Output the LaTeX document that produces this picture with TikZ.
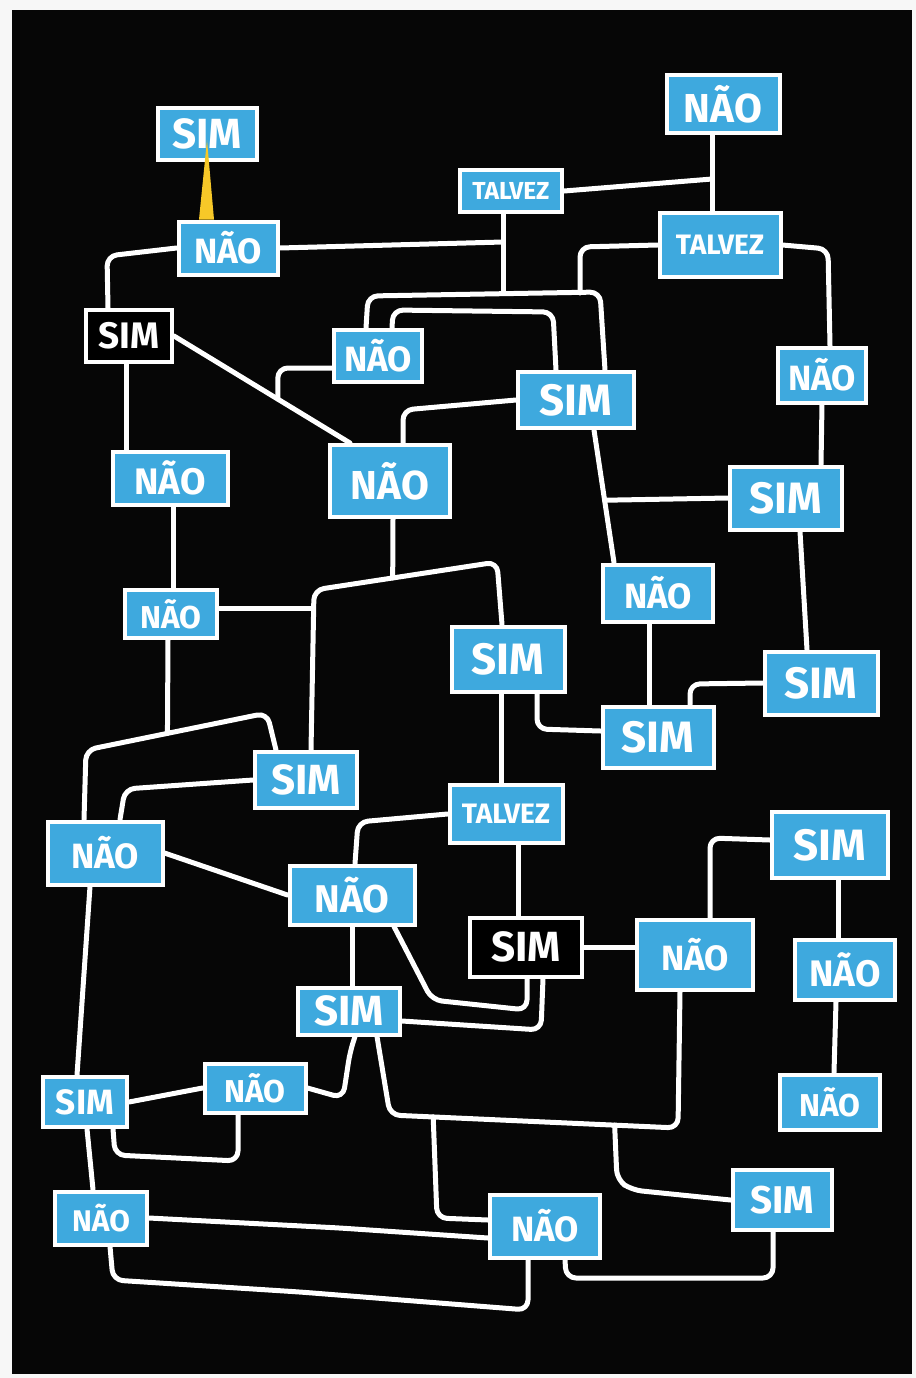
\documentclass[tikz,border=0pt]{standalone}
\usepackage{fontspec}
\setmainfont{Fira Sans}
\usetikzlibrary{calc,backgrounds}

\definecolor{cardblue}{RGB}{62,169,222}
\definecolor{tape}{RGB}{247,200,40}
\definecolor{board}{RGB}{6,6,6}

\begin{document}
\begin{tikzpicture}[x=0.2mm, y=-0.2mm,
    card/.style={draw=white, line width=0.8mm, inner sep=0pt, text=white},
    bluecard/.style={card, fill=cardblue},
    blackcard/.style={card, fill=black},
    sz/.style n args={3}{minimum width=#1*0.2mm, minimum height=#2*0.2mm,
        font=\bfseries\fontsize{#3}{#3}\selectfont},
    wire/.style={draw=white, line width=1mm, rounded corners=2mm, line cap=round, line join=round}
]
\useasboundingbox (0,0) rectangle (916,1378);

% top of the board
\node[bluecard, sz={99}{52}{24}]  (s1) at (207,134) {SIM};
\node[bluecard, sz={99}{53}{20}]  (n2) at (228,248) {NÃO};
\node[bluecard, sz={102}{42}{14}] (t3) at (511,191) {TALVEZ};
\node[bluecard, sz={113}{58}{23}] (n4) at (723,104) {NÃO};
\node[bluecard, sz={121}{64}{16}] (t5) at (720,245) {TALVEZ};

% second band
\node[blackcard, sz={86}{52}{21}] (s6) at (129,336) {SIM};
\node[bluecard, sz={88}{52}{20}]  (n7) at (378,356) {NÃO};
\node[bluecard, sz={116}{56}{25}] (s8) at (576,400) {SIM};
\node[bluecard, sz={88}{55}{20}]  (n9) at (822,375) {NÃO};
\node[bluecard, sz={115}{53}{21}] (n10) at (170,478) {NÃO};
\node[bluecard, sz={120}{72}{23}] (n11) at (390,481) {NÃO};
\node[bluecard, sz={112}{63}{25}] (s12) at (786,498) {SIM};

% middle
\node[bluecard, sz={92}{48}{18}]  (n13) at (171,614) {NÃO};
\node[bluecard, sz={110}{57}{20}] (n14) at (658,593) {NÃO};
\node[bluecard, sz={113}{65}{25}] (s15) at (508,659) {SIM};
\node[bluecard, sz={113}{63}{25}] (s16) at (821,683) {SIM};
\node[bluecard, sz={111}{61}{25}] (s17) at (658,737) {SIM};
\node[bluecard, sz={102}{56}{24}] (s18) at (306,780) {SIM};
\node[bluecard, sz={113}{58}{16}] (t19) at (506,814) {TALVEZ};
\node[bluecard, sz={116}{66}{25}] (s20) at (830,845) {SIM};
\node[bluecard, sz={115}{63}{20}] (n21) at (105,853) {NÃO};
\node[bluecard, sz={125}{59}{22}] (n22) at (352,895) {NÃO};
\node[blackcard, sz={112}{59}{24}] (s23) at (526,947) {SIM};
\node[bluecard, sz={116}{70}{20}] (n24) at (695,955) {NÃO};
\node[bluecard, sz={100}{60}{21}] (n25) at (845,970) {NÃO};

% bottom
\node[bluecard, sz={102}{47}{24}] (s26) at (349,1011) {SIM};
\node[bluecard, sz={84}{50}{20}]  (s27) at (85,1102) {SIM};
\node[bluecard, sz={101}{49}{18}] (n28) at (255,1088) {NÃO};
\node[bluecard, sz={100}{55}{18}] (n29) at (830,1102) {NÃO};
\node[bluecard, sz={99}{60}{22}]  (s30) at (782,1200) {SIM};
\node[bluecard, sz={92}{53}{17}]  (n31) at (101,1218) {NÃO};
\node[bluecard, sz={110}{63}{20}] (n32) at (545,1226) {NÃO};

% junctions
\coordinate (jtop) at (503,242);
\coordinate (jn4) at (712,179);
\coordinate (jdiag) at ($(s6.east)!0.59!(n11.north -| 350,0)$);
\coordinate (jmid) at ($(s8.south -| 594,0)!0.53!(n14.north -| 614,0)$);
\coordinate (jleft) at ($(86,750)!0.45!(267,713)$);
\coordinate (jvert) at (312,608);
\coordinate (jbar) at ($(314,590)!0.43!(497,562)$);
\coordinate (jlow1) at ($(390,1115)!0.15!(678,1128)$);
\coordinate (jlow2) at ($(390,1115)!0.78!(678,1128)$);

\begin{scope}[on background layer]
\fill[gray!6] (0,0) rectangle (916,1378);
\fill[board] (12,10) rectangle (912,1374);

% upper lines
\draw[wire] (n2.west) -- (107,256) -- (s6.north -| 108,0);
\draw[wire] (n2.east) -- (jtop);
\draw[wire] (t3.south -| 503,0) -- (503,293);
\draw[wire] (n7.north -| 366,0) -- (368,296) -- (600,292) -- (s8.north -| 605,0);
\draw[wire] (t5.west) -- (580,247) -- (580,293);
\draw[wire] (n7.north -| 392,0) -- (393,310) -- (553,312) -- (s8.north -| 556,0);
\draw[wire] (s6.east) -- (n11.north -| 350,0);
\draw[wire] (n7.west |- 0,368) -| (jdiag);
\draw[wire] (s8.west) -- (403,410) -- (n11.north -| 403,0);
\draw[wire] (s8.south -| 594,0) -- (n14.north -| 614,0);
\draw[wire] (s12.west) -- (jmid);
\draw[wire] (n4.south -| 712,0) -- (t5.north -| 712,0);
\draw[wire] (t3.east) -- (jn4);
\draw[wire] (t5.east) -- (828,249) -- (n9.north -| 830,0);
\draw[wire] (n9.south) -- (s12.north -| 821,0);
\draw[wire] (s12.south -| 800,0) -- (s16.north -| 807,0);
\draw[wire] (s6.south -| 126,0) -- (n10.north -| 126,0);
\draw[wire] (n10.south -| 173,0) -- (n13.north -| 173,0);

% middle lines
\draw[wire] (n21.north -| 84,0) -- (86,750) -- (267,713) -- (s18.north -| 276,0);
\draw[wire] (n13.south -| 168,0) -- (jleft);
\draw[wire] (s18.north -| 311,0) -- (314,590) -- (497,562) -- (s15.north -| 502,0);
\draw[wire] (n13.east |- 0,608) -- (jvert);
\draw[wire] (n11.south -| 393,0) -- (jbar);
\draw[wire] (s18.west) -- (125,789) -- (n21.north -| 120,0);
\draw[wire] (s15.south -| 501,0) -- (t19.north -| 501,0);
\draw[wire] (s15.south -| 537,0) -- (537,729) -- (s17.west |- 0,731);
\draw[wire] (n14.south -| 649,0) -- (s17.north -| 649,0);
\draw[wire] (s16.west) -- (690,684) -- (s17.north -| 690,0);
\draw[wire] (s20.west |- 0,840) -- (710,838) -- (n24.north -| 710,0);
\draw[wire] (s20.south -| 838,0) -- (n25.north -| 838,0);
\draw[wire] (n25.south -| 836,0) -- (n29.north -| 834,0);
\draw[wire] (t19.west) -- (358,822) -- (n22.north -| 355,0);
\draw[wire] (t19.south -| 518,0) -- (s23.north -| 518,0);
\draw[wire] (n21.east) -- (n22.west);
\draw[wire] (n22.south) -- (s26.north -| 352,0);
\draw[wire] (n22.south -| 394,0) -- (432,1000) -- (527,1010) -- (s23.south -| 527,0);
\draw[wire] (s26.east |- 0,1021) -- (541,1030) -- (s23.south -| 543,0);
\draw[wire] (s23.east) -- (n24.west |- s23.east);

% lower lines
\draw[wire] (s26.south -| 377,0) -- (390,1115) -- (678,1128) -- (n24.south -| 680,0);
\draw[wire] (jlow1) -- (437,1218) -- (n32.west |- 0,1220);
\draw[wire] (jlow2) -- (617,1180) -- (632,1190) -- (s30.west);
\draw[wire] (n32.south -| 565,0) -- (566,1278) -- (773,1278) -- (s30.south -| 773,0);
\draw[wire] (n32.south -| 528,0) -- (528,1310) -- (300,1292) -- (113,1280) -- (n31.south -| 110,0);
\draw[wire] (n31.east) -- (340,1228) -- (n32.west |- 0,1238);
\draw[wire] (n21.south -| 90,0) -- (s27.north -| 77,0);
\draw[wire] (s27.south -| 87,0) -- (n31.north -| 93,0);
\draw[wire] (s27.east) -- (n28.west);
\draw[wire] (s27.south -| 113,0) -- (115,1155) -- (238,1161) -- (n28.south -| 238,0);
\draw[wire] (n28.east) -- (343,1098) -- (350,1052) -- (s26.south -| 355,0);
\end{scope}

% yellow tape between the first two cards
\fill[tape] ([yshift=-1.2mm]s1.center) -- (n2.north -| 214,0) -- (n2.north -| 199,0) -- cycle;

\end{tikzpicture}
\end{document}
